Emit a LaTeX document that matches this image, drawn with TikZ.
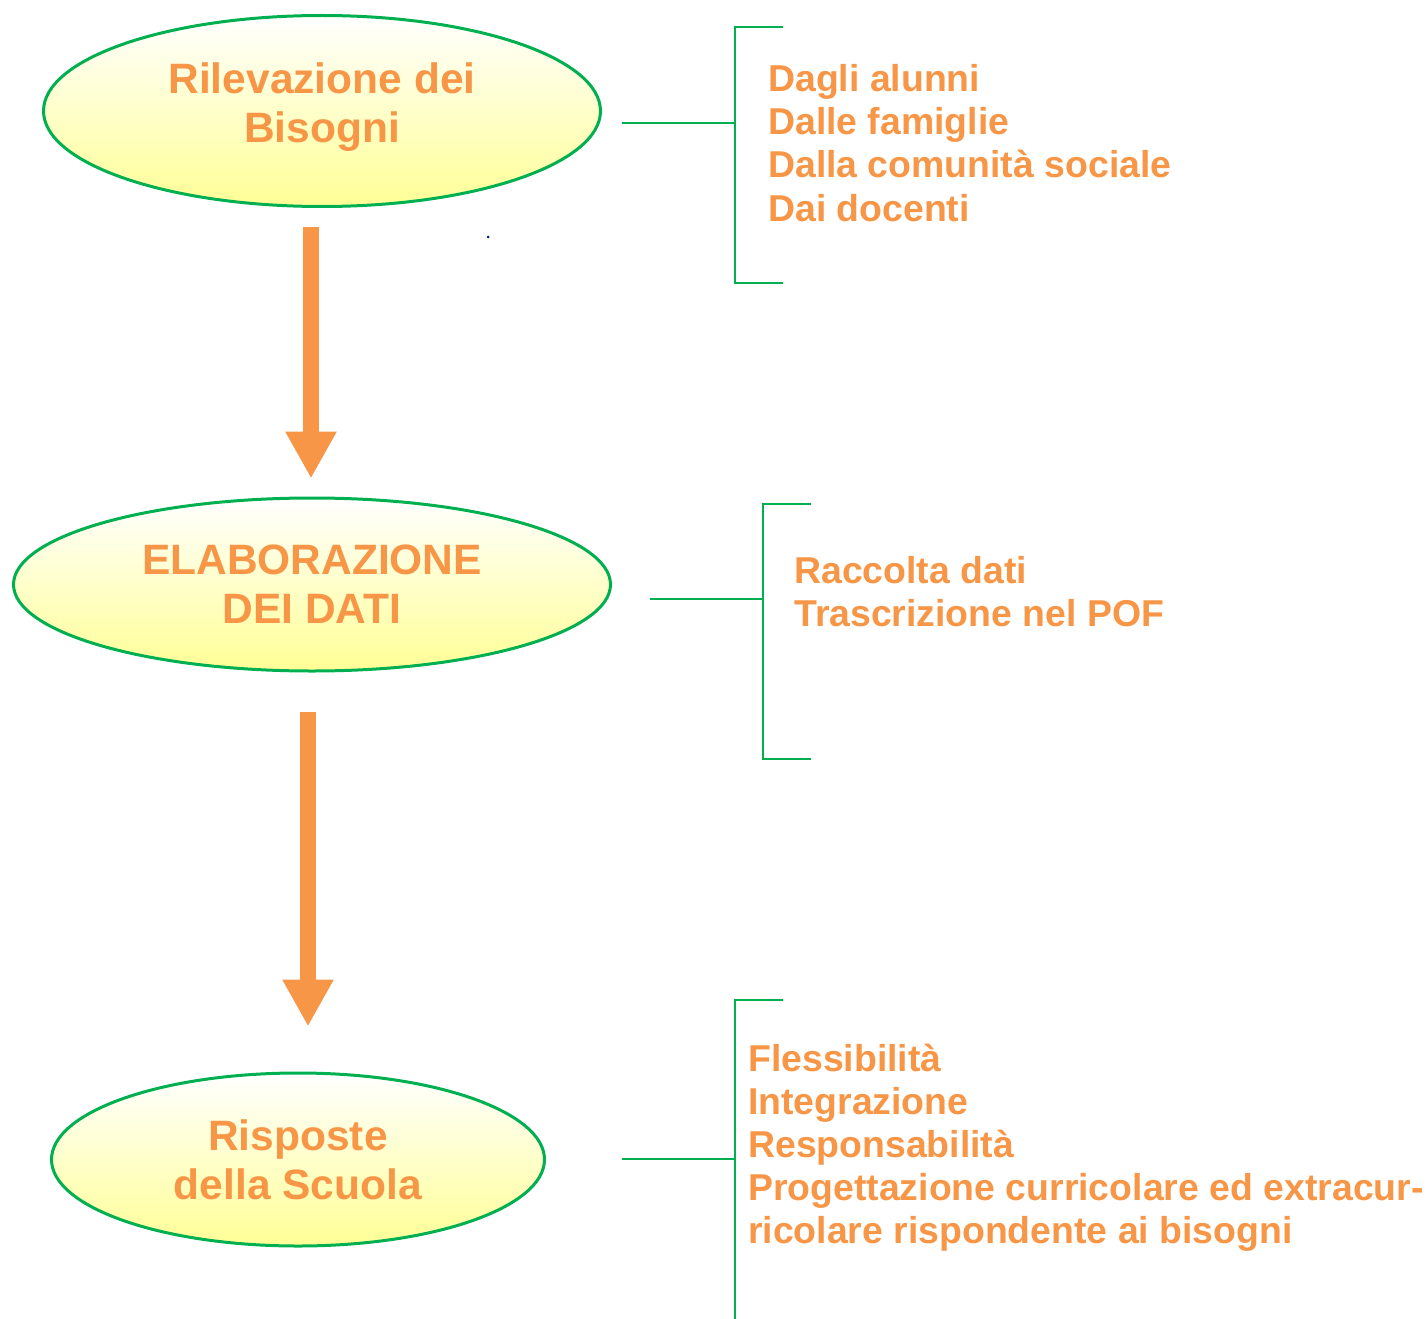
\documentclass[tikz,border=0pt]{standalone}
\usepackage{fontspec}
\setmainfont{Liberation Sans}
\usepackage{tikz}
\usetikzlibrary{arrows.meta, shapes.geometric, positioning}
\usepackage{xcolor}
\definecolor{textorange}{RGB}{247,150,70}
\definecolor{linegreen}{RGB}{0,176,80}
\definecolor{paleyellow}{RGB}{255,255,150}
\definecolor{dotnavy}{RGB}{0,32,120}
\tikzset{bubble/.style={ellipse, draw=linegreen, line width=3pt, top color=white, bottom color=paleyellow, inner sep=0pt, align=center, text=textorange, font=\fontsize{42.5}{49}\selectfont\bfseries}}
\tikzset{flowarrow/.style={draw=textorange, line width=16pt, -{Triangle[width=48pt, length=47pt]}}}
\tikzset{bracketline/.style={draw=linegreen, line width=2.5pt}}
\tikzset{listtext/.style={anchor=base west, inner sep=0pt, text=textorange, font=\fontsize{37.4}{43}\selectfont\bfseries}}

\begin{document}
\begin{tikzpicture}[x=1pt, y=1pt]
        \useasboundingbox (0,0) rectangle (1427,-1319);
        % Ellipses
        \node[bubble, minimum width=557pt, minimum height=191pt, text depth=17.5pt] (rilevazione) at (322,-111) {Rilevazione dei\\Bisogni};
        \node[bubble, minimum width=597pt, minimum height=173pt] (elaborazione) at (312,-584.5) {ELABORAZIONE\\DEI DATI};
        \node[bubble, minimum width=493pt, minimum height=173pt] (risposte) at (298,-1159.5) {Risposte\\della Scuola};
        % Arrows
        \draw[flowarrow] ([xshift=-11pt, yshift=-19pt]rilevazione.south) -- ([xshift=-1pt, yshift=18pt]elaborazione.north);
        \draw[flowarrow] ([xshift=-4pt, yshift=-39pt]elaborazione.south) -- ([xshift=10pt, yshift=45pt]risposte.north);
        \fill[dotnavy] (488,-237) circle (1.5pt);
        % Brackets
        \foreach \name/\sx/\vx/\ytop/\ymid/\ybot in {
            bisogni/622/735/27/123/283,
            dati/650/763/504/599/759} {
            \coordinate (\name-stub) at (\sx,-\ymid);
            \coordinate (\name-knee) at (\vx,-\ymid);
            \draw[bracketline] ({\vx+48},-\ytop) -- (\vx,-\ytop) -- (\vx,-\ybot) -- ({\vx+48},-\ybot);
            \draw[bracketline] (\name-stub) -- (\name-knee);
        }
        \coordinate (scuola-stub) at (622,-1159);
        \coordinate (scuola-knee) at (735,-1159);
        \draw[bracketline] (783,-1000) -- (735,-1000) -- (735,-1321);
        \draw[bracketline] (scuola-stub) -- (scuola-knee);
        % Lists
        \foreach \txt [count=\i] in {Dagli alunni, Dalle famiglie, Dalla comunità sociale, Dai docenti} {
            \node[listtext] (bisogni-\i) at (768,{-92-43*(\i-1)}) {\txt};
        }
        \foreach \txt [count=\i] in {Raccolta dati, Trascrizione nel POF} {
            \node[listtext] (dati-\i) at (794,{-583-43*(\i-1)}) {\txt};
        }
        \foreach \txt [count=\i] in {Flessibilità, Integrazione, Responsabilità, Progettazione curricolare ed extracur-, ricolare rispondente ai bisogni} {
            \node[listtext] (scuola-\i) at (748,{-1071-43*(\i-1)}) {\txt};
        }
    \end{tikzpicture}
\end{document}
